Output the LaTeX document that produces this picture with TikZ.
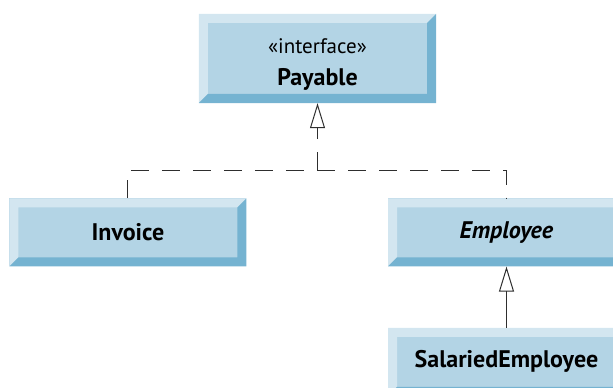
\documentclass[tikz,border=0pt]{standalone}
\usepackage{fontspec}
\setmainfont{PT Sans}
\usetikzlibrary{positioning, arrows.meta}

\definecolor{boxface}{HTML}{B3D4E5}
\definecolor{boxlight}{HTML}{D3E6F0}
\definecolor{boxshade}{HTML}{75B3D1}
\definecolor{linegray}{HTML}{2E2E2E}
\newcommand{\bevelw}{9pt}

\begin{document}
\begin{tikzpicture}[
                node distance=95pt,
                >={Triangle[open, length=25pt, width=15pt]},
                classbox/.style={
                    rectangle, fill=boxface, inner sep=0pt,
                    minimum width=237pt, minimum height=68pt,
                    font=\fontsize{24}{32}\selectfont\bfseries,
                    path picture={
                        \fill[boxlight] (path picture bounding box.north west)
                            -- (path picture bounding box.north east)
                            -- ([xshift=-\bevelw, yshift=-\bevelw]path picture bounding box.north east)
                            -- ([xshift=\bevelw, yshift=-\bevelw]path picture bounding box.north west)
                            -- ([xshift=\bevelw, yshift=\bevelw]path picture bounding box.south west)
                            -- (path picture bounding box.south west) -- cycle;
                        \fill[boxshade] (path picture bounding box.south west)
                            -- (path picture bounding box.south east)
                            -- (path picture bounding box.north east)
                            -- ([xshift=-\bevelw, yshift=-\bevelw]path picture bounding box.north east)
                            -- ([xshift=-\bevelw, yshift=\bevelw]path picture bounding box.south east)
                            -- ([xshift=\bevelw, yshift=\bevelw]path picture bounding box.south west) -- cycle;
                    }},
                realize/.style={draw=linegray, line width=1pt, dash pattern=on 18pt off 13pt},
                extend/.style={draw=linegray, line width=1pt}
            ]
                \useasboundingbox (-317.5pt,-329.5pt) rectangle (295.5pt,58.5pt);
                \clip (-317.5pt,-329.5pt) rectangle (295.5pt,58.5pt);

                \node[classbox, minimum height=89pt,
                    label={[align=center, font=\fontsize{24}{32}\selectfont\bfseries, yshift=-6pt]center:%
                        {\fontsize{21}{32}\selectfont\mdseries «interface»}\\Payable}] (payable) at (0,0) {};
                \node[classbox] (invoice) [below=of payable, xshift=-189.5pt] {Invoice};
                \node[classbox] (employee) [below=of payable, xshift=189pt] {\textit{Employee}};
                \node[classbox] (salaried) [below=61pt of employee] {SalariedEmployee};

                \path (payable.south) ++(0,-67pt) coordinate (join);

                \draw[realize] (invoice.north) |- (join) -| (employee.north);
                \draw[realize, ->] (join) -- (payable.south);
                \draw[extend, ->] (salaried.north) -- (employee.south);
            \end{tikzpicture}
\end{document}
